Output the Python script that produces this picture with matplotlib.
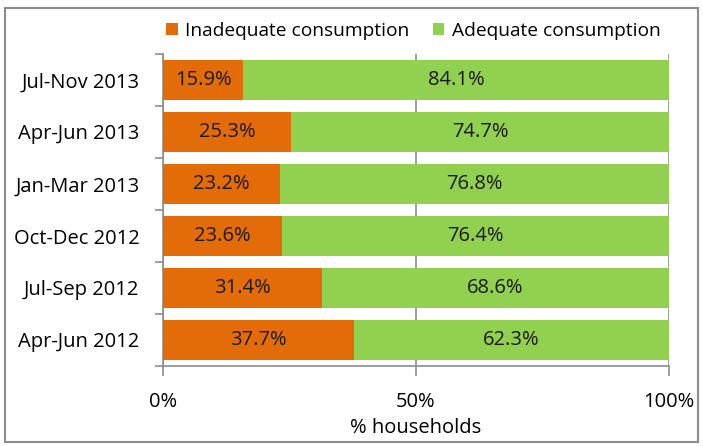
import matplotlib
matplotlib.use('Agg')
import matplotlib.pyplot as plt
from matplotlib.patches import FancyBboxPatch

plt.rcParams['font.family'] = ['Open Sans', 'DejaVu Sans']

# Data (top to bottom as in the chart)
periods = ['Jul-Nov 2013', 'Apr-Jun 2013', 'Jan-Mar 2013', 'Oct-Dec 2012', 'Jul-Sep 2012', 'Apr-Jun 2012']
inadequate = [15.9, 25.3, 23.2, 23.6, 31.4, 37.7]
adequate = [84.1, 74.7, 76.8, 76.4, 68.6, 62.3]

orange = '#E36C09'
green = '#92D050'
gray = '#8C8C8C'
fs = 14.5

fig = plt.figure(figsize=(7.03, 4.46), dpi=100)
ax = fig.add_axes([163/703, 1 - 366/446, (669-163)/703, (366-54)/446])
ax.set_axisbelow(True)

# outer frame
fig.patches.append(FancyBboxPatch((5/703, 4/446), 693/703, 434/446, boxstyle='square,pad=0',
                                  transform=fig.transFigure, fill=False, edgecolor=gray, linewidth=1.5))

y = list(range(len(periods)))[::-1]
ax.barh(y, inadequate, height=0.77, color=orange, label='Inadequate consumption', zorder=3)
ax.barh(y, adequate, left=inadequate, height=0.77, color=green, label='Adequate consumption', zorder=3)

for yi, a, b in zip(y, inadequate, adequate):
    ax.text(a / 2, yi, f'{a:.1f}%', ha='center', va='center', fontsize=fs, color='#1a1a1a', zorder=4)
    ax.text(a + b / 2, yi, f'{b:.1f}%', ha='center', va='center', fontsize=fs, color='#1a1a1a', zorder=4)

ax.set_xlim(0, 100)
ax.set_ylim(-0.5, len(periods) - 0.5)
ax.set_xticks([0, 50, 100])
ax.set_xticklabels(['0%', '50%', '100%'], fontsize=fs)
ax.set_yticks(y)
ax.set_yticklabels(periods, fontsize=fs)
ax.set_yticks([i - 0.5 for i in range(len(periods) + 1)], minor=True)
ax.tick_params(axis='y', which='major', length=0, pad=17)
ax.tick_params(axis='y', which='minor', length=6, color=gray, width=1.2)
ax.tick_params(axis='x', length=7, color=gray, width=1.2, pad=12)
ax.xaxis.grid(True, color=gray, linewidth=1.2)

for s in ['top', 'right']:
    ax.spines[s].set_visible(False)
for s in ['left', 'bottom']:
    ax.spines[s].set_color(gray)
    ax.spines[s].set_linewidth(1.2)

ax.set_xlabel('% households', fontsize=fs, labelpad=4)

fig.legend(loc='upper center', bbox_to_anchor=(0.588, 0.99), ncol=2, frameon=False,
           fontsize=13.8, handlelength=0.6, handleheight=0.6, handletextpad=0.4, columnspacing=1.2)

plt.savefig('out.png', dpi=100)
